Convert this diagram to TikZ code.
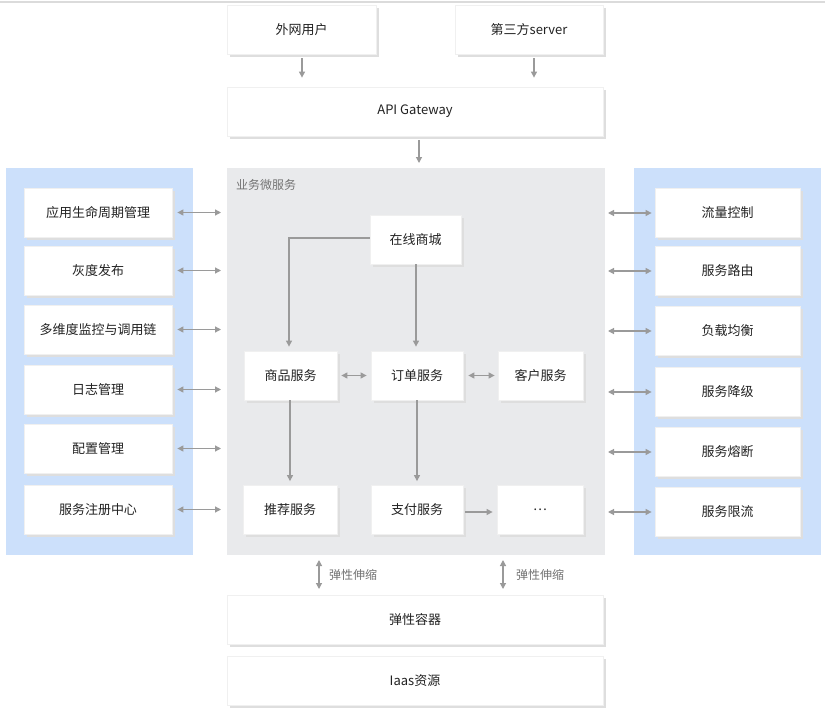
\documentclass[tikz,border=0pt]{standalone}
\usepackage{fontspec}
\setmainfont{Noto Sans CJK SC}
\usetikzlibrary{arrows.meta,shadows}
\definecolor{txt}{HTML}{222222}
\definecolor{arr}{HTML}{9A9A9A}
\definecolor{panelblue}{HTML}{CCE0FB}
\definecolor{panelgray}{HTML}{E9EAEC}
\begin{document}
\begin{tikzpicture}[x=1pt,y=-1pt,
  box/.style={draw=black!6, line width=0.8pt, fill=white, text=txt, font=\fontsize{13}{15}\selectfont,
    minimum height=49pt, inner sep=0pt,
    general shadow={shadow xshift=2.5pt, shadow yshift=-2.5pt, fill=black!13}},
  conn/.style={draw=arr, line width=1.2pt, -{Triangle[length=6pt,width=6pt]}},
  bi/.style={draw=arr, line width=1.2pt, {Triangle[length=6pt,width=6pt]}-{Triangle[length=6pt,width=6pt]}},
  lbl/.style={text=black!55, font=\fontsize{12}{14}\selectfont, inner sep=0pt}]
\useasboundingbox (0,0) rectangle (825,712);
\fill[white] (0,0) rectangle (825,712);
\draw[black!14, line width=1.2pt] (0,2) -- (825,2);
% panels
\fill[panelblue] (6,168) rectangle (193,555);
\fill[panelblue] (634,168) rectangle (821,555);
\fill[panelgray] (227,168) rectangle (605,555);
\node[lbl, anchor=west] (svc) at (236,185) {业务微服务};
% top
\node[box, minimum width=149pt] (user) at (301.5,29.5) {外网用户};
\node[box, minimum width=148pt] (third) at (529,29.5) {第三方server};
\node[box, minimum width=376pt] (api) at (415,111.5) {API Gateway};
\coordinate (svctop) at (419,163);
\draw[conn] ([yshift=-4pt]user.south -| 302,0) -- ([yshift=9pt]api.north -| 302,0);
\draw[conn] ([yshift=-4pt]third.south -| 534,0) -- ([yshift=9pt]api.north -| 534,0);
\draw[conn] ([yshift=-4pt]api.south -| 419,0) -- (svctop);
% left boxes
\foreach \n/\t/\y in {l1/应用生命周期管理/212.5, l2/灰度发布/270.5, l3/多维度监控与调用链/329.5, l4/日志管理/389.5, l5/配置管理/448.5, l6/服务注册中心/509.5}{
  \node[box, minimum width=148pt] (\n) at (98,\y) {\t};
  \coordinate (\n r) at (221,\y);
  \draw[bi] ([xshift=5pt]\n.east) -- (\n r);
}
% right boxes
\foreach \n/\t/\y in {r1/流量控制/213, r2/服务路由/271, r3/负载均衡/331, r4/服务降级/392, r5/服务熔断/452, r6/服务限流/512}{
  \node[box, minimum width=145pt] (\n) at (727.5,\y) {\t};
  \coordinate (\n l) at (608,\y);
  \draw[bi] (\n l) -- ([xshift=-3pt]\n.west);
}
% services
\node[box, minimum width=91pt] (mall) at (415.5,239.5) {在线商城};
\node[box, minimum width=93pt] (goods) at (290.5,375.5) {商品服务};
\node[box, minimum width=92pt] (order) at (417,375.5) {订单服务};
\node[box, minimum width=85pt] (cust) at (540.5,375.5) {客户服务};
\node[box, minimum width=94pt] (rec) at (290,510) {推荐服务};
\node[box, minimum width=92pt] (pay) at (417,510) {支付服务};
\node[box, minimum width=86pt] (more) at (540,510) {\dots};
\draw[conn] (mall.west |- 0,238) -| ([yshift=4pt]goods.north -| 289,0);
\draw[conn] (mall.south -| 416,0) -- ([yshift=4pt]order.north -| 416,0);
\draw[conn] (goods.south -| 290,0) -- ([yshift=4pt]rec.north -| 290,0);
\draw[conn] (order.south -| 417,0) -- ([yshift=4pt]pay.north -| 417,0);
\draw[bi] ([xshift=4pt]goods.east) -- ([xshift=-4pt]order.west);
\draw[bi] ([xshift=5pt]order.east) -- ([xshift=-3pt]cust.west);
\draw[conn] ([xshift=2pt]pay.east |- 0,512) -- ([xshift=-4pt]more.west |- 0,512);
% bottom
\node[box, minimum width=376pt] (elastic) at (415,619.5) {弹性容器};
\node[box, minimum width=376pt] (iaas) at (415,680.5) {Iaas资源};
\draw[bi] (319,560) -- (319,589);
\draw[bi] (503,560) -- (503,589);
\node[lbl, anchor=west] (e1) at (329,574.5) {弹性伸缩};
\node[lbl, anchor=west] (e2) at (516,574.5) {弹性伸缩};
\end{tikzpicture}
\end{document}
